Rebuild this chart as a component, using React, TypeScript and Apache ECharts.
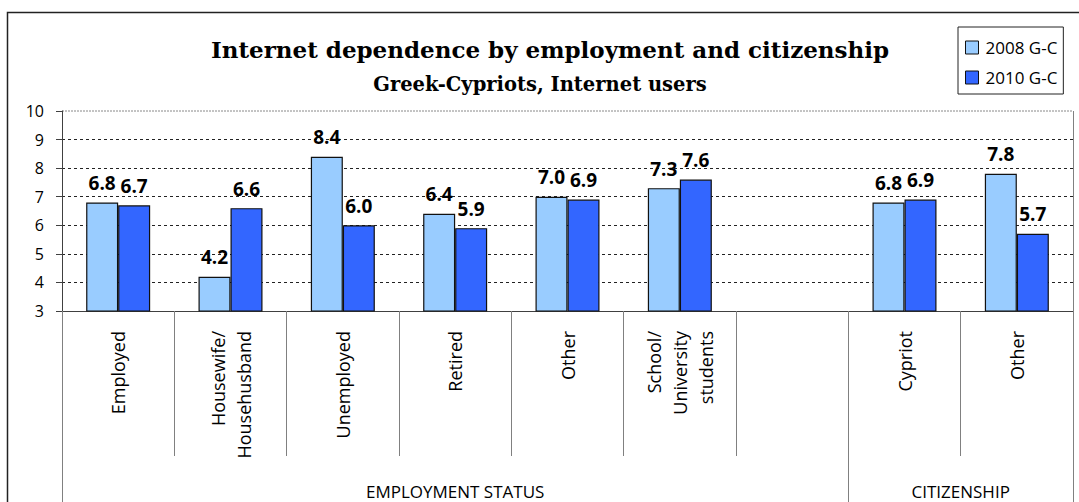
import React, { useEffect, useRef } from "react";
import * as echarts from "echarts";

const categories = [
  "Employed",
  "Housewife/\nHousehusband",
  "Unemployed",
  "Retired",
  "Other",
  "School/\nUniversity\nstudents",
  "",
  "Cypriot",
  "Other",
];
const values2008 = [6.8, 4.2, 8.4, 6.4, 7.0, 7.3, null, 6.8, 7.8];
const values2010 = [6.7, 6.6, 6.0, 5.9, 6.9, 7.6, null, 6.9, 5.7];
const seriesNames = ["2008 G-C", "2010 G-C"];
const yMin = 3;
const yMax = 10;
const yInterval = 1;
const groups = [
  { name: "EMPLOYMENT STATUS", from: 0, to: 7 },
  { name: "CITIZENSHIP", from: 7, to: 9 },
];

const W = 1079;
const H = 502;
const GRID_LEFT = 62;
const GRID_RIGHT = 6;
const GRID_TOP = 111;
const GRID_BOTTOM = 191;

export default function App() {
  const ref = useRef<HTMLDivElement>(null);
  useEffect(() => {
    if (!ref.current) return;
    const chart = echarts.init(ref.current, undefined, { renderer: "svg" });
    const plotW = W - GRID_LEFT - GRID_RIGHT;
    const catW = plotW / categories.length;
    const axisY = H - GRID_BOTTOM;
    const sans = "Open Sans";
    const serif = "DejaVu Serif";

    const graphics: any[] = [
      {
        type: "rect",
        shape: { x: 7.5, y: 12.5, width: 1200, height: 600 },
        style: { fill: "none", stroke: "#222", lineWidth: 1.5 },
        silent: true,
      },
      {
        type: "line",
        shape: { x1: GRID_LEFT, y1: GRID_TOP, x2: W - GRID_RIGHT, y2: GRID_TOP },
        style: { stroke: "#888", lineWidth: 1, lineDash: [2, 1] },
        silent: true,
      },
    ];
    const boundaries = new Set<number>();
    groups.forEach((g) => {
      boundaries.add(g.from);
      boundaries.add(g.to);
      const cx = GRID_LEFT + ((g.from + g.to) / 2) * catW;
      graphics.push({
        type: "text",
        x: cx,
        y: 491,
        style: {
          text: g.name,
          fill: "#000",
          fontFamily: sans,
          fontSize: 17,
          align: "center",
          verticalAlign: "middle",
        },
      });
    });
    boundaries.forEach((i) => {
      const x = Math.round(GRID_LEFT + i * catW) + 0.5;
      graphics.push({
        type: "line",
        shape: { x1: x, y1: i === categories.length ? GRID_TOP : axisY, x2: x, y2: H + 5 },
        style: { stroke: "#808080", lineWidth: 1 },
        silent: true,
      });
    });

    const barStyle = (color: string) => ({
      color,
      borderColor: "#111",
      borderWidth: 1.2,
    });
    const label = {
      show: true,
      position: "top",
      distance: 10,
      fontFamily: sans,
      fontWeight: "bold",
      fontSize: 19,
      color: "#000",
      formatter: (p: any) => (p.value == null ? "" : Number(p.value).toFixed(1)),
    };

    chart.setOption({
      animation: false,
      title: [
        {
          text: "Internet dependence by employment and citizenship",
          left: 545,
          top: 33,
          textAlign: "center",
          textStyle: { fontFamily: serif, fontWeight: "bold", fontSize: 23, color: "#000" },
        },
        {
          text: "Greek-Cypriots, Internet users",
          left: 535,
          top: 69,
          textAlign: "center",
          textStyle: { fontFamily: serif, fontWeight: "bold", fontSize: 19.5, color: "#000" },
        },
      ],
      legend: {
        orient: "vertical",
        left: 958,
        top: 27,
        padding: [12, 6, 8, 7],
        itemGap: 13,
        itemWidth: 13,
        itemHeight: 13,
        icon: "rect",
        borderColor: "#222",
        borderWidth: 1,
        data: seriesNames,
        itemStyle: { borderColor: "#111", borderWidth: 1 },
        textStyle: { fontFamily: sans, fontSize: 17, color: "#000", padding: [0, 0, 0, 2] },
      },
      grid: {
        left: GRID_LEFT,
        right: GRID_RIGHT,
        top: GRID_TOP,
        bottom: GRID_BOTTOM,
        containLabel: false,
      },
      xAxis: {
        type: "category",
        data: categories,
        boundaryGap: true,
        axisLine: { show: true, lineStyle: { color: "#404040", width: 1 } },
        axisTick: {
          show: true,
          interval: 0,
          length: 145,
          lineStyle: { color: "#808080", width: 1 },
        },
        axisLabel: {
          interval: 0,
          rotate: 90,
          margin: 20,
          fontFamily: sans,
          fontSize: 18,
          lineHeight: 26,
          color: "#000",
        },
        splitLine: { show: false },
      },
      yAxis: {
        type: "value",
        min: yMin,
        max: yMax,
        interval: yInterval,
        axisLine: { show: true, lineStyle: { color: "#404040", width: 1 } },
        axisTick: { show: true, length: 6, lineStyle: { color: "#404040" } },
        axisLabel: {
          show: true,
          margin: 18,
          fontFamily: sans,
          fontSize: 16,
          color: "#000",
        },
        splitLine: {
          show: true,
          showMaxLine: false,
          showMinLine: false,
          lineStyle: { color: "#222", type: [3, 3], width: 1 },
        },
      },
      series: [
        {
          name: seriesNames[0],
          type: "bar",
          data: values2008,
          barWidth: 32,
          barGap: "0%",
          itemStyle: barStyle("#99CCFF"),
          label,
        },
        {
          name: seriesNames[1],
          type: "bar",
          data: values2010,
          barWidth: 32,
          barGap: "0%",
          itemStyle: barStyle("#3366FF"),
          label,
        },
      ],
      graphic: graphics,
    });
    return () => chart.dispose();
  }, []);
  return (
    <div
      ref={ref}
      style={{ position: "fixed", left: 0, top: 0, width: W, height: H, background: "#fff" }}
    />
  );
}
